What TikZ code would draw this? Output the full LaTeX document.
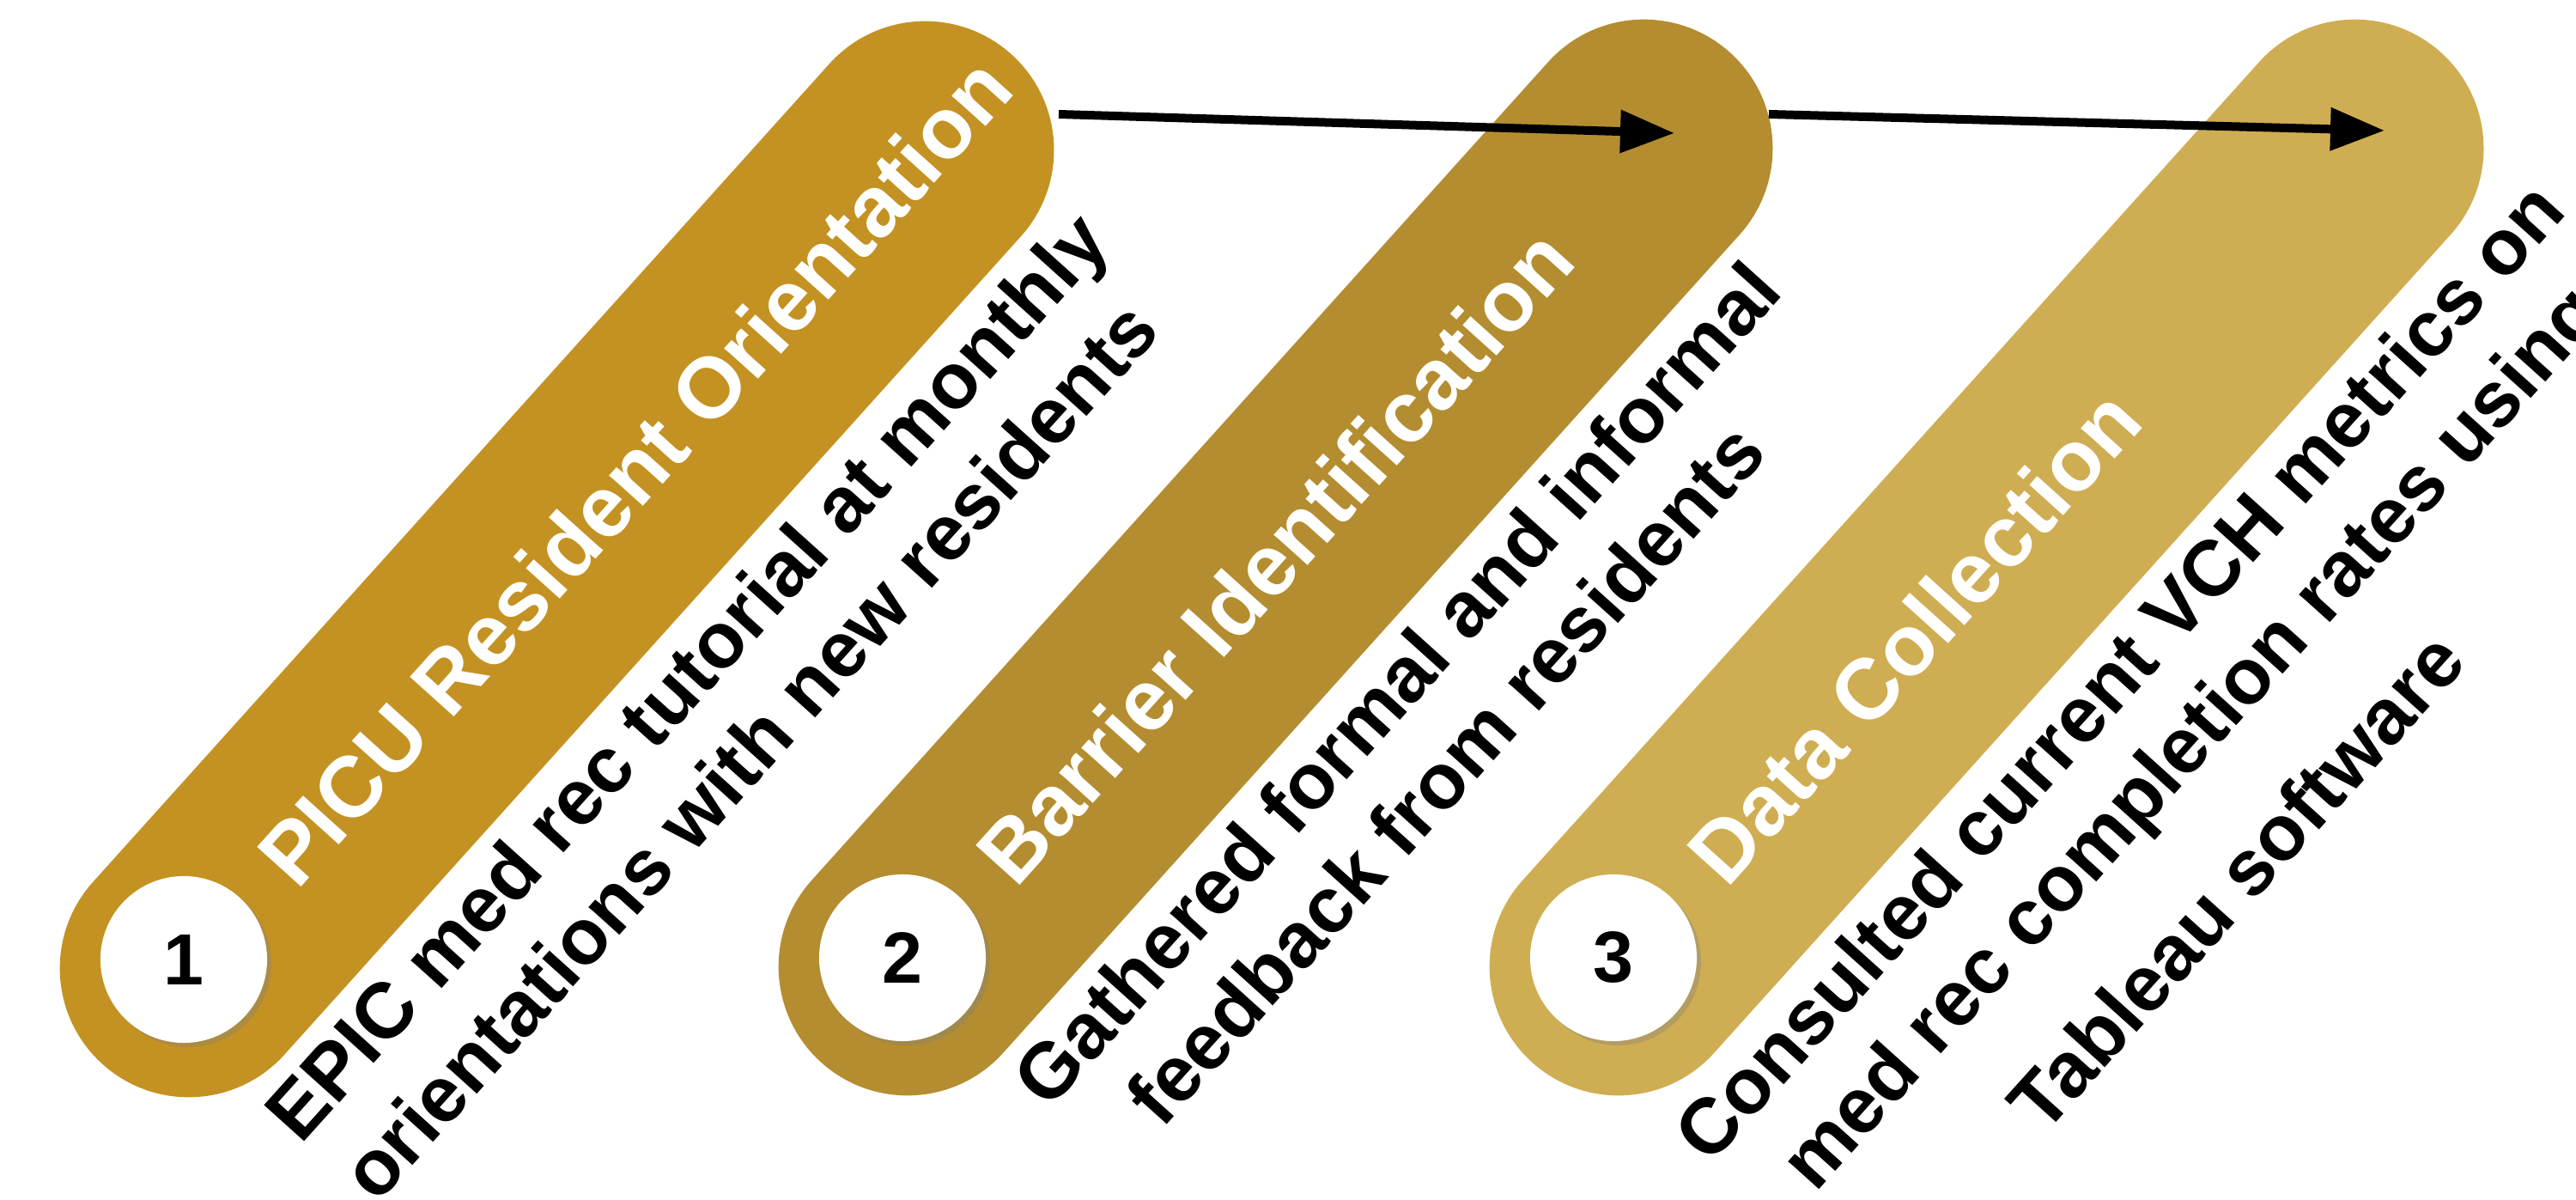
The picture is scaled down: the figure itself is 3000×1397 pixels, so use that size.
\documentclass[tikz,border=0pt]{standalone}
\usepackage{fontspec}
\setmainfont{Liberation Sans}
\usetikzlibrary{shapes.misc, arrows.meta, calc, shadows}

\definecolor{gold1}{HTML}{C49222}
\definecolor{gold2}{HTML}{B48D30}
\definecolor{gold3}{HTML}{CFAD52}

\begin{document}
\begin{tikzpicture}[x=0.01cm, y=0.01cm,
  pill/.style={rounded rectangle, minimum width=15.81cm, minimum height=3cm, rotate=48, inner sep=0pt, draw=none},
  numcirc/.style={circle, fill=white, minimum size=1.94cm, inner sep=0pt,
    font=\fontsize{24}{28}\selectfont\bfseries,
    drop shadow={shadow xshift=0.05cm, shadow yshift=-0.05cm, opacity=0.35}},
  title/.style={rotate=48, anchor=base west, inner sep=0pt, text=white,
    font=\fontsize{28.5}{34}\selectfont\bfseries},
  desc/.style={rotate=48, anchor=north, inner sep=0pt, align=center, text=black,
    font=\fontsize{26}{32}\selectfont\bfseries},
  flow/.style={line width=0.1cm, -{Triangle[length=0.63cm, width=0.48cm]}}
]
\useasboundingbox (0,0) rectangle (3000,1397);

% lower cap centres of the three pills (y measured upward)
\coordinate (s1) at (220,270);
\coordinate (s2) at (1057,272);
\coordinate (s3) at (1885,272);

% pills
\node[pill, fill=gold1] (p1) at ($(s1)+(48:640.5)$) {};
\node[pill, fill=gold2] (p2) at ($(s2)+(48:640.5)$) {};
\node[pill, fill=gold3] (p3) at ($(s3)+(48:640.5)$) {};

% number circles
\node[numcirc] (n1) at ($(s1)+(-6,10)$) {1};
\node[numcirc] (n2) at ($(s2)+(-6,10)$) {2};
\node[numcirc] (n3) at ($(s3)+(-6,10)$) {3};

% titles
\node[title] (t1) at ($(s1)+(48:150)+(-42:34)$) {PICU Resident Orientation};
\node[title] (t2) at ($(s2)+(48:150)+(-42:34)$) {Barrier Identification};
\node[title] (t3) at ($(s3)+(48:150)+(-42:34)$) {Data Collection};

% descriptions
\node[desc] (d1) at ($(s1)+(48:640)+(-42:168)$) {EPIC med rec tutorial at monthly\\orientations with new residents\hspace*{0.3cm}};
\node[desc] (d2) at ($(s2)+(48:625)+(-42:168)$) {Gathered formal and informal\\feedback from residents\hspace*{0.8cm}};
\node[desc] (d3) at ($(s3)+(48:645)+(-42:168)$) {Consulted current VCH metrics on\\med rec completion rates using\\[0.4cm]Tableau software\hspace*{1.8cm}};

% arrows
\coordinate (a1) at (1233,1264);
\coordinate (b1) at (1950,1242);
\coordinate (a2) at (2060,1264);
\coordinate (b2) at (2777,1245);
\draw[flow] (a1) -- (b1);
\draw[flow] (a2) -- (b2);
\end{tikzpicture}
\end{document}
